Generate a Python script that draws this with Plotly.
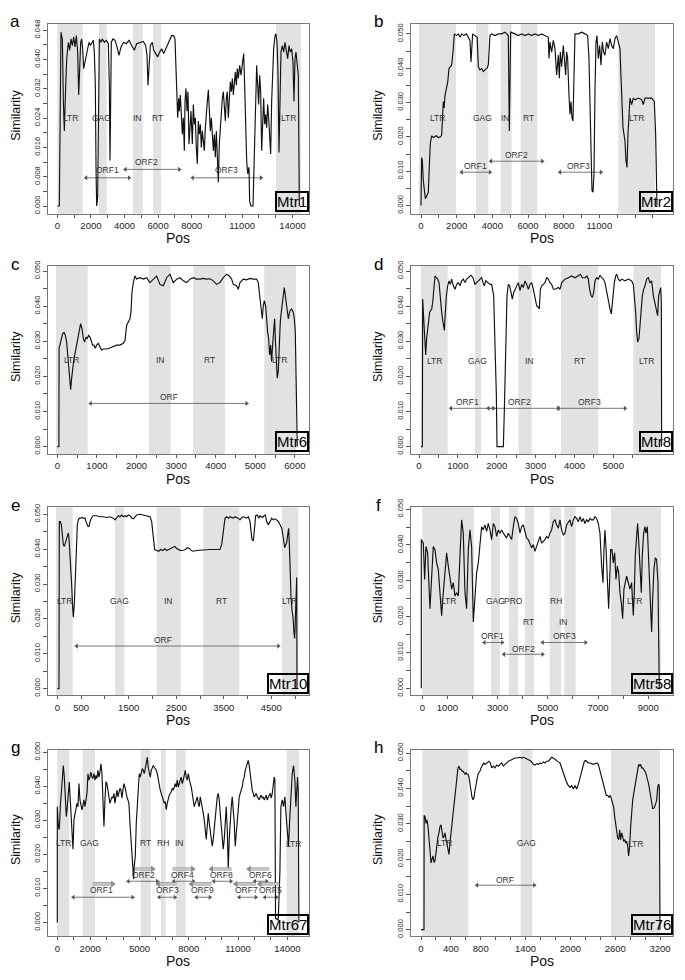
import plotly.graph_objects as go

FONT = "Liberation Sans, Arial, Helvetica, sans-serif"

# ======================= DATA =======================
# ---- a : Mtr1 ----
a_pos = [0,120,220,300,360,420,500,560,657,736,
         816,895,974,1054,1133,1212,1272,1331,1391,1450,
         1510,1569,1649,1728,1807,1887,1966,2046,2145,2204,
         2264,2304,2343,2403,2442,2502,2601,2680,2799,2919,
         3038,3097,3137,3176,3216,3315,3434,3534,3672,3792,
         3950,4109,4268,4426,4585,4724,4922,5121,5260,5339,
         5399,5458,5537,5656,5736,5855,5974,6093,6212,6331,
         6450,6569,6688,6807,6926,7006,7065,7105,7165,7224,
         7264,7323,7383,7442,7502,7561,7601,7660,7720,7780,
         7839,7899,7958,8037,8097,8156,8216,8275,8335,8394,
         8454,8513,8573,8632,8692,8751,8811,8871,8930,8990,
         9049,9109,9168,9228,9287,9347,9406,9466,9525,9585,
         9644,9704,9763,9823,9882,9942,10001,10061,10120,10180,
         10240,10299,10359,10418,10478,10537,10597,10656,10716,10775,
         10855,10934,11013,11093,11152,11212,11271,11331,11410,11450,
         11529,11648,11688,11748,11807,11867,11926,11986,12045,12105,
         12164,12224,12283,12343,12402,12462,12521,12581,12640,12700,
         12759,12819,12878,12958,13017,13077,13136,13196,13255,13315,
         13394,13474,13553,13632,13712,13791,13870,13950,14029,14088,
         14148,14207,14267,14346,14406]
a_sim = [0,0,0.0474,0.0456,0.0285,0.0205,0.0330,0.0402,0.0447,0.0425,
         0.0456,0.0438,0.0461,0.0434,0.0465,0.0420,0.0303,0.0384,0.0447,0.0456,
         0.0429,0.0375,0.0393,0.0420,0.0438,0.0447,0.0438,0.0443,0.0452,0.0420,
         0.0330,0.0106,0,0.0025,0.0330,0.0456,0.0447,0.0456,0.0447,0.0452,
         0.0443,0.0330,0.0124,0.0241,0.0447,0.0456,0.0452,0.0438,0.0411,0.0434,
         0.0447,0.0443,0.0452,0.0438,0.0425,0.0443,0.0447,0.0449,0.0438,0.0411,
         0.0330,0.0393,0.0438,0.0447,0.0425,0.0416,0.0407,0.0420,0.0429,0.0416,
         0.0429,0.0438,0.0456,0.0465,0.0465,0.0456,0.0375,0.0285,0.0241,0.0294,
         0.0259,0.0303,0.0250,0.0196,0.0241,0.0151,0.0285,0.0321,0.0259,0.0312,
         0.0169,0.0241,0.0259,0.0169,0.0277,0.0223,0.0241,0.0160,0.0115,0.0232,
         0.0196,0.0223,0.0160,0.0205,0.0178,0.0151,0.0214,0.0241,0.0285,0.0317,
         0.0241,0.0205,0.0241,0.0178,0.0151,0.0196,0.0133,0.0205,0.0097,0.0065,
         0.0169,0.0214,0.0259,0.0294,0.0312,0.0268,0.0232,0.0294,0.0312,0.0241,
         0.0285,0.0339,0.0312,0.0348,0.0303,0.0330,0.0366,0.0330,0.0375,0.0348,
         0.0384,0.0357,0.0393,0.0416,0.0330,0.0196,0.0124,0.0088,0.0106,0.0012,
         0,0,0.0079,0.0223,0.0330,0.0384,0.0330,0.0277,0.0357,0.0312,
         0.0151,0.0241,0.0294,0.0223,0.0250,0.0214,0.0277,0.0241,0.0169,0.0142,
         0.0285,0.0375,0.0429,0.0465,0.0470,0.0447,0.0366,0.0146,0.0330,0.0420,
         0.0438,0.0420,0.0447,0.0425,0.0402,0.0438,0.0420,0.0429,0.0393,0.0285,
         0.0402,0.0420,0.0393,0.0357,0]
a_shade = [(0,1510),(2480,2940),(4500,5080),(5710,6170),(13020,14500)]
a_feat = [("LTR",800,0.0240),("GAG",2640,0.0240),("IN",4780,0.0240),("RT",5970,0.0240),("LTR",13750,0.0240)]
a_orf = [("ORF1",1710,4270,0.0077,2976,0.0098),("ORF2",4050,7260,0.0100,5321,0.0121),
         ("ORF3",8060,12125,0.0077,10042,0.0098)]
a_xtick = [0,1000,2000,3000,4000,5000,6000,7000,8000,9000,10000,11000,12000,13000,14000]
a_xtext = ["0","","2000","","4000","","6000","","8000","","","11000","","","14000"]

# ---- b : Mtr2 ----
b_pos = [0,37,74,130,186,242,298,354,411,448,
         520,597,700,850,971,1100,1158,1252,1300,1345,
         1438,1500,1569,1719,1800,1869,2000,2093,2200,2280,
         2400,2550,2654,2747,2803,2850,2897,3027,3150,3214,
         3300,3401,3500,3588,3700,3775,3868,3962,4149,4335,
         4522,4709,4896,4952,5027,5270,5450,5644,5830,6018,
         6200,6391,6600,6765,7000,7139,7176,7232,7326,7419,
         7513,7606,7700,7756,7812,7887,7980,8036,8111,8167,
         8223,8298,8354,8410,8466,8522,8559,8597,8634,8821,
         9008,9195,9344,9419,9475,9531,9587,9643,9700,9756,
         9812,9868,9942,10017,10092,10167,10241,10316,10410,10503,
         10597,10690,10783,10877,10970,11064,11158,11213,11269,11326,
         11382,11438,11494,11550,11606,11662,11718,11812,11905,11999,
         12186,12373,12466,12560,12747,12933,13083,13158,13232]
b_sim = [0,0.0140,0.0131,0.0073,0.0035,0.0020,0.0025,0.0035,0.0039,0.0092,
         0.0180,0.0203,0.0198,0.0203,0.0198,0.0200,0.0205,0.0303,0.0284,0.0320,
         0.0340,0.0360,0.0399,0.0409,0.0450,0.0500,0.0495,0.0500,0.0490,0.0500,
         0.0495,0.0500,0.0490,0.0480,0.0418,0.0470,0.0500,0.0495,0.0490,0.0404,
         0.0395,0.0399,0.0390,0.0395,0.0400,0.0410,0.0495,0.0500,0.0495,0.0500,
         0.0500,0.0505,0.0495,0.0217,0.0505,0.0500,0.0495,0.0500,0.0495,0.0500,
         0.0495,0.0500,0.0495,0.0500,0.0495,0.0490,0.0428,0.0476,0.0447,0.0481,
         0.0457,0.0380,0.0438,0.0371,0.0447,0.0404,0.0466,0.0438,0.0380,0.0447,
         0.0428,0.0322,0.0265,0.0303,0.0255,0.0246,0.0322,0.0447,0.0500,0.0500,
         0.0505,0.0500,0.0495,0.0428,0.0284,0.0140,0.0044,0.0039,0.0092,0.0332,
         0.0476,0.0495,0.0428,0.0466,0.0409,0.0476,0.0447,0.0438,0.0476,0.0457,
         0.0486,0.0466,0.0457,0.0486,0.0495,0.0476,0.0457,0.0380,0.0284,0.0227,
         0.0207,0.0188,0.0131,0.0111,0.0207,0.0284,0.0313,0.0294,0.0313,0.0308,
         0.0313,0.0308,0.0294,0.0313,0.0313,0.0313,0.0303,0.0207,0]
b_shade = [(-110,1962),(3083,3775),(4466,5083),(5588,6522),(11064,13120)]
b_feat = [("LTR",934,0.0255),("GAG",3438,0.0255),("IN",4747,0.0255),("RT",6018,0.0255),("LTR",12092,0.0255)]
b_orf = [("ORF1",2280,3868,0.0097,3083,0.0116),("ORF2",3924,6803,0.0129,5363,0.0148),
         ("ORF3",7793,10092,0.0097,8821,0.0116)]
b_xtick = [0,1000,2000,3000,4000,5000,6000,7000,8000,9000,10000,11000,12000,13000]
b_xtext = ["0","","2000","","4000","","6000","","8000","","11000","","",""]

# ---- c : Mtr6 ----
c_pos = [0,40,45,67,109,135,168,202,236,261,
         286,311,337,362,387,421,455,488,530,556,
         589,623,657,690,724,758,791,825,859,892,
         926,960,993,1035,1077,1119,1162,1246,1330,1414,
         1498,1582,1667,1709,1751,1793,1835,1860,1885,1919,
         1961,2003,2087,2172,2256,2340,2424,2508,2592,2677,
         2761,2845,2929,3013,3097,3182,3266,3350,3434,3518,
         3602,3687,3771,3855,3939,4023,4107,4192,4276,4343,
         4402,4444,4528,4570,4612,4697,4781,4865,4949,5033,
         5075,5118,5151,5176,5202,5227,5261,5286,5311,5336,
         5362,5387,5412,5437,5463,5488,5505,5530,5555,5580,
         5606,5631,5656,5681,5707,5732,5757,5782,5808,5833,
         5875,5917,5959,5985,6010,6035,6060]
c_sim = [0,0,0.0280,0.0289,0.0308,0.0322,0.0325,0.0317,0.0298,0.0261,
         0.0223,0.0186,0.0162,0.0195,0.0223,0.0251,0.0270,0.0289,0.0308,0.0326,
         0.0350,0.0336,0.0308,0.0298,0.0312,0.0308,0.0317,0.0312,0.0298,0.0289,
         0.0289,0.0280,0.0289,0.0294,0.0284,0.0275,0.0278,0.0278,0.0281,0.0284,
         0.0289,0.0289,0.0294,0.0303,0.0345,0.0355,0.0364,0.0383,0.0439,0.0467,
         0.0486,0.0477,0.0481,0.0477,0.0481,0.0467,0.0477,0.0486,0.0462,0.0458,
         0.0481,0.0491,0.0467,0.0477,0.0481,0.0472,0.0467,0.0477,0.0481,0.0477,
         0.0477,0.0479,0.0477,0.0478,0.0472,0.0462,0.0467,0.0481,0.0491,0.0486,
         0.0477,0.0462,0.0458,0.0448,0.0467,0.0477,0.0475,0.0479,0.0477,0.0477,
         0.0467,0.0420,0.0383,0.0364,0.0401,0.0416,0.0401,0.0355,0.0326,0.0308,
         0.0261,0.0289,0.0242,0.0289,0.0336,0.0364,0.0308,0.0232,0.0195,0.0214,
         0.0308,0.0355,0.0383,0.0401,0.0430,0.0453,0.0430,0.0401,0.0383,0.0364,
         0.0387,0.0392,0.0383,0.0364,0.0326,0.0195,0]
c_shade = [(-34,766),(2315,2862),(3434,4234),(5227,6027)]
c_feat = [("LTR",362,0.0246),("IN",2609,0.0246),("RT",3838,0.0246),("LTR",5623,0.0246)]
c_orf = [("ORF",842,4781,0.0123,2811,0.0141)]
c_xtick = [0,500,1000,1500,2000,2500,3000,3500,4000,4500,5000,5500,6000]
c_xtext = ["0","","1000","","2000","","3000","","4000","","5000","","6000"]

# ---- d : Mtr8 ----
d_pos = [51,86,94,120,146,172,197,223,249,274,
         300,326,352,377,412,446,480,515,549,583,
         617,652,678,703,738,772,806,840,883,926,
         969,1012,1055,1098,1141,1183,1226,1269,1338,1389,
         1441,1484,1527,1569,1612,1647,1681,1715,1767,1827,
         1870,1921,1955,1990,2007,2170,2195,2230,2264,2298,
         2333,2367,2401,2436,2470,2513,2556,2599,2641,2684,
         2727,2770,2813,2856,2899,2942,2984,3027,3070,3096,
         3122,3156,3199,3242,3285,3327,3370,3413,3456,3499,
         3585,3628,3671,3756,3842,3928,4014,4099,4151,4202,
         4271,4322,4357,4391,4425,4460,4494,4528,4571,4614,
         4657,4700,4743,4785,4828,4871,4914,4948,4983,5026,
         5060,5086,5129,5171,5214,5300,5386,5471,5514,5540,
         5574,5600,5626,5660,5686,5712,5746,5780,5815,5857,
         5900,5943,5986,6029,6072,6115,6140,6166,6192,6218,
         6235,6243]
d_sim = [0,0,0.0420,0.0364,0.0308,0.0261,0.0308,0.0345,0.0359,0.0383,
         0.0387,0.0392,0.0411,0.0448,0.0486,0.0481,0.0477,0.0467,0.0420,0.0383,
         0.0355,0.0331,0.0383,0.0430,0.0458,0.0472,0.0462,0.0477,0.0458,0.0448,
         0.0462,0.0467,0.0458,0.0472,0.0477,0.0467,0.0477,0.0481,0.0488,0.0481,
         0.0462,0.0467,0.0472,0.0477,0.0481,0.0467,0.0458,0.0472,0.0467,0.0462,
         0.0462,0.0430,0.0289,0.0148,0,0,0.0101,0.0289,0.0430,0.0462,
         0.0458,0.0439,0.0420,0.0439,0.0448,0.0458,0.0467,0.0444,0.0462,0.0453,
         0.0472,0.0462,0.0448,0.0462,0.0467,0.0448,0.0420,0.0401,0.0397,0.0392,
         0.0448,0.0458,0.0462,0.0467,0.0481,0.0477,0.0467,0.0462,0.0448,0.0448,
         0.0453,0.0448,0.0467,0.0477,0.0481,0.0486,0.0481,0.0486,0.0491,0.0481,
         0.0481,0.0486,0.0477,0.0448,0.0430,0.0425,0.0439,0.0472,0.0481,0.0477,
         0.0488,0.0481,0.0477,0.0467,0.0439,0.0411,0.0392,0.0378,0.0430,0.0467,
         0.0486,0.0491,0.0477,0.0472,0.0477,0.0472,0.0477,0.0472,0.0462,0.0430,
         0.0383,0.0326,0.0298,0.0308,0.0355,0.0401,0.0430,0.0448,0.0458,0.0477,
         0.0481,0.0467,0.0472,0.0430,0.0406,0.0383,0.0373,0.0430,0.0448,0.0453,
         0.0411,0]
d_shade = [(51,738),(1441,1595),(2556,2899),(3653,4614),(5514,6226)]
d_feat = [("LTR",394,0.0244),("GAG",1509,0.0244),("IN",2830,0.0244),("RT",4142,0.0244),("LTR",5857,0.0244)]
d_orf = [("ORF1",823,1912,0.0109,1244,0.0127),("ORF2",1784,3585,0.0109,2598,0.0127),
         ("ORF3",3585,5300,0.0109,4399,0.0127)]
d_xtick = [0,500,1000,1500,2000,2500,3000,3500,4000,4500,5000,5500]
d_xtext = ["0","","1000","","2000","","3000","","4000","","5000",""]

# ---- e : Mtr10 ----
e_pos = [0,35,42,63,84,105,126,147,168,189,
         210,231,245,259,280,301,322,336,358,379,
         400,421,442,463,491,519,547,582,603,624,
         645,666,687,722,757,827,897,967,1037,1108,
         1178,1213,1248,1283,1318,1353,1388,1423,1458,1493,
         1528,1563,1598,1633,1668,1738,1809,1879,1949,1984,
         2019,2047,2089,2131,2173,2215,2264,2299,2341,2383,
         2425,2468,2510,2552,2594,2650,2692,2734,2776,2818,
         2860,2930,3000,3070,3140,3211,3281,3351,3421,3456,
         3491,3526,3561,3596,3631,3666,3701,3736,3771,3806,
         3841,3877,3912,3947,3982,4017,4052,4073,4094,4122,
         4143,4171,4206,4234,4262,4290,4318,4346,4374,4402,
         4437,4472,4507,4542,4578,4613,4648,4683,4718,4753,
         4781,4802,4823,4844,4865,4879,4893,4914,4935,4956,
         4977,4991,5005,5019,5033,5040]
e_sim = [0,0,0.0479,0.0479,0.0470,0.0432,0.0413,0.0408,0.0418,0.0422,
         0.0432,0.0446,0.0432,0.0404,0.0366,0.0300,0.0233,0.0205,0.0243,0.0319,
         0.0413,0.0470,0.0484,0.0489,0.0489,0.0491,0.0489,0.0489,0.0479,0.0470,
         0.0465,0.0465,0.0479,0.0491,0.0496,0.0496,0.0493,0.0493,0.0491,0.0493,
         0.0489,0.0484,0.0491,0.0496,0.0493,0.0498,0.0493,0.0496,0.0493,0.0498,
         0.0496,0.0489,0.0487,0.0493,0.0498,0.0500,0.0498,0.0496,0.0493,0.0479,
         0.0432,0.0399,0.0396,0.0394,0.0399,0.0396,0.0401,0.0396,0.0399,0.0402,
         0.0405,0.0408,0.0402,0.0399,0.0396,0.0397,0.0399,0.0404,0.0402,0.0396,
         0.0394,0.0396,0.0397,0.0399,0.0399,0.0399,0.0399,0.0399,0.0399,0.0413,
         0.0460,0.0489,0.0493,0.0489,0.0493,0.0491,0.0489,0.0493,0.0491,0.0489,
         0.0484,0.0491,0.0493,0.0491,0.0489,0.0493,0.0479,0.0451,0.0427,0.0424,
         0.0451,0.0496,0.0498,0.0489,0.0496,0.0493,0.0491,0.0496,0.0498,0.0479,
         0.0470,0.0479,0.0489,0.0484,0.0487,0.0484,0.0479,0.0470,0.0460,0.0432,
         0.0404,0.0413,0.0418,0.0441,0.0460,0.0413,0.0319,0.0262,0.0224,0.0205,
         0.0158,0.0144,0.0196,0.0243,0.0319,0]
e_shade = [(-28,322),(1213,1409),(2089,2594),(3070,3827),(4718,5068)]
e_feat = [("LTR",147,0.0250),("GAG",1304,0.0250),("IN",2348,0.0250),("RT",3456,0.0250),("LTR",4879,0.0250)]
e_orf = [("ORF",407,4648,0.0122,2215,0.0139)]
e_xtick = [0,500,1000,1500,2000,2500,3000,3500,4000,4500,5000]
e_xtext = ["0","500","","1500","","2500","","3500","","4500",""]

# ---- f : Mtr58 ----
f_pos = [-40,-40,40,93,146,212,305,385,438,505,
         571,637,704,770,837,903,969,1036,1102,1169,
         1235,1301,1368,1434,1501,1567,1633,1700,1766,1833,
         1899,1965,2032,2098,2165,2231,2297,2364,2430,2497,
         2563,2629,2696,2762,2829,2895,2961,3028,3094,3161,
         3227,3293,3360,3426,3493,3559,3625,3692,3758,3825,
         3891,3957,4024,4090,4157,4223,4289,4356,4422,4489,
         4555,4621,4688,4754,4821,4887,4953,5020,5086,5153,
         5219,5285,5352,5418,5485,5551,5617,5684,5750,5817,
         5883,5949,6016,6082,6149,6215,6281,6348,6414,6481,
         6547,6613,6680,6746,6813,6879,6945,7012,7078,7145,
         7198,7238,7277,7317,7357,7397,7424,7463,7503,7556,
         7609,7663,7716,7769,7822,7875,7928,7981,8034,8088,
         8141,8207,8273,8340,8406,8446,8486,8539,8579,8619,
         8672,8725,8765,8818,8871,8911,8964,9004,9057,9097,
         9136,9176,9229,9282,9336,9389,9442]
f_sim = [0,0.0415,0.0405,0.0304,0.0396,0.0378,0.0222,0.0323,0.0396,0.0387,
         0.0350,0.0332,0.0277,0.0203,0.0267,0.0323,0.0378,0.0341,0.0304,0.0277,
         0.0295,0.0258,0.0267,0.0258,0.0369,0.0470,0.0433,0.0267,0.0222,0.0387,
         0.0442,0.0396,0.0185,0.0249,0.0323,0.0350,0.0396,0.0451,0.0442,0.0456,
         0.0438,0.0460,0.0442,0.0415,0.0460,0.0451,0.0424,0.0442,0.0433,0.0442,
         0.0433,0.0424,0.0419,0.0433,0.0424,0.0415,0.0451,0.0479,0.0474,0.0460,
         0.0433,0.0451,0.0456,0.0433,0.0419,0.0415,0.0401,0.0392,0.0401,0.0382,
         0.0396,0.0410,0.0424,0.0405,0.0410,0.0415,0.0424,0.0419,0.0433,0.0442,
         0.0465,0.0470,0.0456,0.0447,0.0470,0.0442,0.0428,0.0433,0.0456,0.0465,
         0.0470,0.0451,0.0470,0.0479,0.0474,0.0465,0.0479,0.0465,0.0474,0.0460,
         0.0470,0.0465,0.0474,0.0470,0.0470,0.0479,0.0474,0.0460,0.0433,0.0341,
         0.0295,0.0387,0.0442,0.0396,0.0332,0.0249,0.0222,0.0295,0.0387,0.0387,
         0.0350,0.0378,0.0304,0.0341,0.0323,0.0267,0.0240,0.0194,0.0277,0.0295,
         0.0313,0.0295,0.0277,0.0295,0.0203,0.0267,0.0369,0.0424,0.0460,0.0415,
         0.0323,0.0267,0.0369,0.0433,0.0451,0.0433,0.0451,0.0387,0.0295,0.0203,
         0.0157,0.0249,0.0332,0.0364,0.0359,0.0295,0]
f_shade = [(0,2058),(2736,3094),(3453,3825),(4090,4449),(5073,5524),(5657,6109),(7516,9508)]
f_feat = [("LTR",1036,0.0243),("GAG",2922,0.0243),("PRO",3625,0.0243),("RT",4223,0.0185),
          ("RH",5312,0.0243),("IN",5644,0.0185),("LTR",8473,0.0243)]
f_orf = [("ORF1",2470,3187,0.0128,2789,0.0145),("ORF2",3254,4794,0.0095,4024,0.0111),
         ("ORF3",4794,6507,0.0128,5657,0.0145)]
f_xtick = [0,1000,2000,3000,4000,5000,6000,7000,8000,9000]
f_xtext = ["0","1000","","3000","","5000","","7000","","9000"]

# ---- g : Mtr67 ----
g_pos = [0,0,61,122,183,243,304,365,426,487,
         548,608,669,730,791,852,913,953,1014,1075,
         1136,1197,1257,1318,1379,1440,1501,1562,1622,1683,
         1744,1805,1866,1927,1987,2048,2109,2170,2231,2292,
         2352,2413,2474,2535,2596,2657,2718,2778,2839,2900,
         2961,3022,3083,3143,3204,3265,3326,3387,3448,3508,
         3569,3630,3691,3752,3813,3873,3934,3995,4056,4117,
         4178,4238,4299,4360,4421,4482,4543,4604,4644,4685,
         4746,4806,4867,4928,4989,5050,5111,5171,5232,5293,
         5354,5415,5476,5536,5597,5658,5719,5780,5841,5901,
         5962,6023,6084,6145,6206,6266,6327,6388,6449,6510,
         6571,6632,6692,6753,6814,6875,6936,6997,7057,7118,
         7179,7240,7301,7362,7422,7483,7544,7605,7666,7727,
         7788,7848,7909,7970,8031,8092,8153,8213,8274,8335,
         8396,8457,8518,8578,8639,8700,8761,8822,8883,8943,
         9004,9065,9126,9187,9248,9309,9369,9430,9491,9552,
         9613,9674,9734,9795,9856,9917,9978,10039,10099,10160,
         10221,10282,10343,10404,10464,10525,10586,10647,10708,10769,
         10829,10890,10951,11012,11073,11134,11194,11255,11316,11377,
         11438,11499,11560,11620,11681,11742,11803,11864,11925,11985,
         12046,12107,12168,12229,12290,12350,12411,12472,12533,12594,
         12655,12715,12776,12837,12898,12959,13020,13081,13141,13202,
         13243,13283,13445,13547,13608,13689,13770,13851,13932,14013,
         14074,14135,14216,14297,14378,14459,14520,14581,14622,14662,
         14703]
g_sim = [0,0.0340,0.0282,0.0273,0.0340,0.0389,0.0437,0.0461,0.0427,0.0360,
         0.0311,0.0340,0.0389,0.0413,0.0360,0.0292,0.0253,0.0215,0.0302,0.0321,
         0.0331,0.0350,0.0340,0.0408,0.0360,0.0340,0.0331,0.0345,0.0360,0.0340,
         0.0355,0.0379,0.0437,0.0418,0.0427,0.0442,0.0427,0.0423,0.0437,0.0418,
         0.0432,0.0423,0.0447,0.0427,0.0442,0.0466,0.0437,0.0340,0.0282,0.0360,
         0.0413,0.0408,0.0389,0.0379,0.0350,0.0360,0.0369,0.0365,0.0379,0.0350,
         0.0369,0.0389,0.0369,0.0379,0.0394,0.0389,0.0365,0.0389,0.0408,0.0398,
         0.0379,0.0369,0.0360,0.0350,0.0292,0.0244,0.0195,0.0147,0.0128,0.0166,
         0.0195,0.0292,0.0340,0.0418,0.0437,0.0427,0.0442,0.0452,0.0447,0.0437,
         0.0452,0.0476,0.0485,0.0456,0.0437,0.0427,0.0447,0.0456,0.0461,0.0456,
         0.0452,0.0447,0.0437,0.0418,0.0398,0.0389,0.0379,0.0369,0.0360,0.0350,
         0.0355,0.0331,0.0350,0.0365,0.0374,0.0379,0.0384,0.0394,0.0389,0.0398,
         0.0408,0.0398,0.0418,0.0398,0.0413,0.0418,0.0427,0.0408,0.0418,0.0437,
         0.0447,0.0427,0.0418,0.0437,0.0418,0.0408,0.0398,0.0379,0.0360,0.0340,
         0.0350,0.0360,0.0369,0.0350,0.0340,0.0369,0.0355,0.0340,0.0321,0.0302,
         0.0263,0.0244,0.0282,0.0321,0.0292,0.0273,0.0244,0.0224,0.0244,0.0282,
         0.0311,0.0340,0.0369,0.0379,0.0360,0.0321,0.0292,0.0263,0.0215,0.0244,
         0.0282,0.0340,0.0273,0.0157,0.0244,0.0302,0.0340,0.0369,0.0331,0.0292,
         0.0224,0.0263,0.0292,0.0340,0.0369,0.0379,0.0389,0.0398,0.0418,0.0427,
         0.0447,0.0456,0.0466,0.0476,0.0461,0.0437,0.0408,0.0389,0.0379,0.0369,
         0.0374,0.0379,0.0369,0.0365,0.0360,0.0369,0.0374,0.0365,0.0369,0.0360,
         0.0365,0.0374,0.0360,0.0369,0.0374,0.0379,0.0365,0.0379,0.0408,0.0427,
         0.0418,0.0012,0.0007,0.0147,0.0340,0.0360,0.0340,0.0369,0.0311,0.0263,
         0.0224,0.0292,0.0369,0.0437,0.0461,0.0418,0.0340,0.0379,0.0427,0.0389,
         0]
g_shade = [(0,730),(1541,2292),(5070,5678),(6307,6591),(7220,7808),(13953,14703)]
g_feat = [("LTR",406,0.0234),("GAG",1947,0.0234),("RT",5374,0.0234),("RH",6449,0.0234),
          ("IN",7463,0.0234),("LTR",14358,0.0229)]
g_orf = [("ORF1",973,4583,0.0074,2697,0.0094),("ORF2",4320,6084,0.0121,5273,0.0139),
         ("ORF3",6206,7159,0.0074,6692,0.0094),("ORF4",7098,8274,0.0121,7625,0.0139),
         ("ORF8",9532,10566,0.0121,9998,0.0139),("ORF9",8477,9288,0.0074,8842,0.0094),
         ("ORF7",11073,12087,0.0074,11519,0.0094),("ORF6",12026,12736,0.0121,12371,0.0139),
         ("ORF5",12634,13344,0.0074,12979,0.0094)]
# strand arrows drawn above each ORF label: (start, end, level, direction)
g_strand = [(2150,3366,0.0113,"right"),(4725,5800,0.0157,"right"),(6145,7260,0.0113,"left"),
            (7017,8234,0.0157,"right"),(9390,10606,0.0157,"left"),(8173,9390,0.0113,"left"),
            (10870,12087,0.0113,"left"),(11681,12898,0.0157,"left"),(12330,13506,0.0113,"left")]
g_xtick = [0,1000,2000,3000,4000,5000,6000,7000,8000,9000,10000,11000,12000,13000,14000]
g_xtext = ["0","","2000","","","5000","","","8000","","","11000","","","14000"]

# ---- h : Mtr76 ----
h_pos = [0,40,42,54,67,80,94,107,121,134,
         147,161,174,187,201,214,228,241,254,268,
         281,295,308,321,335,348,362,375,388,402,
         415,428,442,455,469,482,495,509,522,536,
         549,562,576,589,603,616,629,643,656,669,
         683,696,710,723,736,750,763,777,790,803,
         821,839,857,875,893,910,928,946,968,991,
         1013,1035,1058,1080,1102,1125,1147,1169,1192,1214,
         1236,1259,1281,1303,1326,1348,1370,1392,1415,1437,
         1459,1482,1504,1526,1549,1571,1593,1616,1638,1660,
         1683,1705,1727,1750,1772,1794,1816,1839,1861,1883,
         1906,1928,1950,1973,1995,2017,2040,2062,2084,2107,
         2129,2151,2173,2187,2205,2223,2240,2263,2285,2307,
         2330,2352,2374,2397,2419,2432,2446,2464,2481,2499,
         2517,2535,2553,2566,2580,2593,2606,2620,2633,2647,
         2660,2673,2687,2700,2713,2727,2740,2754,2767,2780,
         2794,2807,2821,2834,2847,2861,2874,2887,2901,2914,
         2928,2941,2954,2968,2981,2995,3008,3021,3035,3048,
         3062,3075,3088,3102,3115,3128,3142,3155,3169,3182,
         3191,3200]
h_sim = [0,0,0.0324,0.0320,0.0301,0.0311,0.0292,0.0255,0.0200,0.0189,
         0.0200,0.0209,0.0190,0.0195,0.0218,0.0246,0.0264,0.0274,0.0292,0.0297,
         0.0274,0.0260,0.0264,0.0274,0.0255,0.0237,0.0218,0.0213,0.0246,0.0274,
         0.0301,0.0329,0.0357,0.0384,0.0412,0.0440,0.0458,0.0463,0.0454,0.0454,
         0.0449,0.0449,0.0445,0.0440,0.0445,0.0440,0.0440,0.0431,0.0412,0.0389,
         0.0375,0.0368,0.0375,0.0394,0.0412,0.0421,0.0440,0.0445,0.0449,0.0458,
         0.0468,0.0472,0.0468,0.0472,0.0475,0.0477,0.0472,0.0458,0.0463,0.0458,
         0.0466,0.0463,0.0468,0.0472,0.0463,0.0468,0.0472,0.0477,0.0479,0.0482,
         0.0484,0.0486,0.0486,0.0488,0.0488,0.0486,0.0488,0.0486,0.0484,0.0482,
         0.0479,0.0475,0.0468,0.0466,0.0470,0.0468,0.0472,0.0470,0.0475,0.0472,
         0.0477,0.0477,0.0484,0.0488,0.0486,0.0482,0.0477,0.0475,0.0472,0.0458,
         0.0449,0.0431,0.0417,0.0408,0.0403,0.0408,0.0398,0.0408,0.0398,0.0412,
         0.0431,0.0449,0.0468,0.0477,0.0479,0.0475,0.0472,0.0472,0.0470,0.0468,
         0.0470,0.0472,0.0468,0.0449,0.0431,0.0412,0.0403,0.0389,0.0380,0.0380,
         0.0375,0.0380,0.0367,0.0357,0.0347,0.0320,0.0301,0.0274,0.0260,0.0255,
         0.0283,0.0255,0.0274,0.0264,0.0250,0.0255,0.0246,0.0250,0.0237,0.0209,
         0.0237,0.0292,0.0338,0.0366,0.0384,0.0403,0.0421,0.0440,0.0458,0.0468,
         0.0463,0.0468,0.0458,0.0458,0.0454,0.0449,0.0445,0.0435,0.0426,0.0412,
         0.0394,0.0375,0.0357,0.0343,0.0343,0.0347,0.0357,0.0366,0.0403,0.0412,
         0.0403,0]
h_shade = [(18,634),(1334,1491),(2544,3200)]
h_feat = [("LTR",312,0.0244),("GAG",1406,0.0246),("LTR",2874,0.0243)]
h_orf = [("ORF",750,1517,0.0126,1125,0.0142)]
h_xtick = [0,200,400,600,800,1000,1200,1400,1600,1800,2000,2200,2400,2600,2800,3000,3200]
h_xtext = ["0","","400","","800","","","1400","","","2000","","","2600","","","3200"]

# y tick labels
ya_tick = [0.000,0.004,0.008,0.012,0.016,0.020,0.024,0.028,0.032,0.036,0.040,0.044,0.048]
ya_text = ["0.000","","0.008","","0.016","","0.024","","0.032","","0.040","","0.048"]
y_tick = [0.000,0.005,0.010,0.015,0.020,0.025,0.030,0.035,0.040,0.045,0.050]
y_text = ["0.000","","0.010","","0.020","","0.030","","0.040","","0.050"]

# ======================= FIGURE =======================
# page body adds an 8px margin; the figure is sized so that it exactly fills the 685x980 window
OFF = 8
W, H = 685 - 2 * OFF, 980 - 2 * OFF
COLS = [(48, 309), (411, 673)]            # window pixels
ROWS = [(15, 207), (260, 450), (504, 694), (749, 938)]


def px(x):
    return (x - OFF) / W


def py(y):
    return 1 - (y - OFF) / H


panels = [
    dict(letter="a", name="Mtr1", pos=a_pos, sim=a_sim, shade=a_shade, feat=a_feat, orf=a_orf,
         xt=a_xtick, xl=a_xtext, yt=ya_tick, yl=ya_text, xr=[-554, 14982], yr=[-0.0021, 0.0497], c=0, r=0),
    dict(letter="b", name="Mtr2", pos=b_pos, sim=b_sim, shade=b_shade, feat=b_feat, orf=b_orf,
         xt=b_xtick, xl=b_xtext, yt=y_tick, yl=y_text, xr=[-561, 14131], yr=[-0.0024, 0.0529], c=1, r=0),
    dict(letter="c", name="Mtr6", pos=c_pos, sim=c_sim, shade=c_shade, feat=c_feat, orf=c_orf,
         xt=c_xtick, xl=c_xtext, yt=y_tick, yl=y_text, xr=[-235, 6356], yr=[-0.0021, 0.0514], c=0, r=1),
    dict(letter="d", name="Mtr8", pos=d_pos, sim=d_sim, shade=d_shade, feat=d_feat, orf=d_orf,
         xt=d_xtick, xl=d_xtext, yt=y_tick, yl=y_text, xr=[-206, 6535], yr=[-0.0021, 0.0514], c=1, r=1),
    dict(letter="e", name="Mtr10", pos=e_pos, sim=e_sim, shade=e_shade, feat=e_feat, orf=e_orf,
         xt=e_xtick, xl=e_xtext, yt=y_tick, yl=y_text, xr=[-196, 5292], yr=[-0.0019, 0.0520], c=0, r=2),
    dict(letter="f", name="Mtr58", pos=f_pos, sim=f_sim, shade=f_shade, feat=f_feat, orf=f_orf,
         xt=f_xtick, xl=f_xtext, yt=y_tick, yl=y_text, xr=[-450, 9988], yr=[-0.0019, 0.0505], c=1, r=2),
    dict(letter="g", name="Mtr67", pos=g_pos, sim=g_sim, shade=g_shade, feat=g_feat, orf=g_orf,
         xt=g_xtick, xl=g_xtext, yt=y_tick, yl=y_text, xr=[-566, 15319], yr=[-0.0041, 0.0508], c=0, r=3),
    dict(letter="h", name="Mtr76", pos=h_pos, sim=h_sim, shade=h_shade, feat=h_feat, orf=h_orf,
         xt=h_xtick, xl=h_xtext, yt=y_tick, yl=y_text, xr=[-134, 3374], yr=[-0.0019, 0.0510], c=1, r=3),
]

fig = go.Figure()
layout = dict(width=W, height=H, margin=dict(l=0, r=0, t=0, b=0),
              paper_bgcolor="white", plot_bgcolor="white", showlegend=False,
              font=dict(family=FONT, color="#111"))
shapes, annots = [], []

AX_COL = "#777"
TXT_COL = "#333"

for k, p in enumerate(panels, start=1):
    assert len(p["pos"]) == len(p["sim"]), (p["name"], len(p["pos"]), len(p["sim"]))
    xn = "x" if k == 1 else f"x{k}"
    yn = "y" if k == 1 else f"y{k}"
    xk = "xaxis" if k == 1 else f"xaxis{k}"
    yk = "yaxis" if k == 1 else f"yaxis{k}"
    x0p, x1p = COLS[p["c"]]
    y0p, y1p = ROWS[p["r"]]
    layout[xk] = dict(domain=[px(x0p), px(x1p)], range=p["xr"], anchor=yn,
                      tickmode="array", tickvals=p["xt"], ticktext=p["xl"],
                      ticks="outside", ticklen=3, tickwidth=1, tickcolor="#555",
                      showline=True, linecolor=AX_COL, linewidth=1, mirror=True,
                      showgrid=False, zeroline=False,
                      tickfont=dict(size=9.5, color="#222", family=FONT))
    layout[yk] = dict(domain=[py(y1p), py(y0p)], range=p["yr"], anchor=xn,
                      tickmode="array", tickvals=p["yt"], ticktext=p["yl"], tickangle=-90,
                      ticks="outside", ticklen=4, tickwidth=1, tickcolor="#555",
                      showline=True, linecolor=AX_COL, linewidth=1, mirror=True,
                      showgrid=False, zeroline=False,
                      tickfont=dict(size=7.5, color="#222", family=FONT))

    # gene-region shading
    for (s, e) in p["shade"]:
        shapes.append(dict(type="rect", xref=xn, yref=f"{yn} domain", x0=s, x1=e, y0=0, y1=1,
                           fillcolor="#e2e2e2", line=dict(width=0), layer="below"))
    # region labels
    for (t, xv, yv) in p["feat"]:
        annots.append(dict(xref=xn, yref=yn, x=xv, y=yv, text=t, showarrow=False,
                           font=dict(size=8.5, color=TXT_COL, family=FONT)))
    # ORF arrows + labels
    for (t, s, e, yv, lx, ly) in p["orf"]:
        fig.add_trace(go.Scatter(x=[s, e], y=[yv, yv], xaxis=xn, yaxis=yn, mode="lines+markers",
                                 line=dict(color="#555", width=0.8),
                                 marker=dict(symbol=["triangle-left", "triangle-right"], size=4.5,
                                             color="#555"),
                                 hoverinfo="skip"))
        annots.append(dict(xref=xn, yref=yn, x=lx, y=ly, text=t, showarrow=False,
                           font=dict(size=8.5, color=TXT_COL, family=FONT)))

    # similarity trace
    fig.add_trace(go.Scatter(x=p["pos"], y=p["sim"], xaxis=xn, yaxis=yn, mode="lines",
                             line=dict(color="#111", width=1.15), hoverinfo="skip"))

    # element name box
    annots.append(dict(xref=f"{xn} domain", yref=f"{yn} domain", x=1, y=0.008,
                       xanchor="right", yanchor="bottom", text=p["name"], showarrow=False,
                       font=dict(size=15, color="#000", family=FONT),
                       bordercolor="#000", borderwidth=2, borderpad=0, bgcolor="rgba(0,0,0,0)"))

    # panel letter, axis titles
    lx = 15 if p["c"] == 0 else 378
    annots.append(dict(xref="paper", yref="paper", x=px(lx), y=py(y0p - 2), text=p["letter"],
                       showarrow=False, xanchor="center", yanchor="middle",
                       font=dict(size=17, color="#000", family=FONT)))
    annots.append(dict(xref="paper", yref="paper", x=px(16 if p["c"] == 0 else 378),
                       y=py((y0p + y1p) / 2 - 3), text="Similarity", textangle=-90,
                       showarrow=False, xanchor="center", yanchor="middle",
                       font=dict(size=12.5, color="#111", family=FONT)))
    annots.append(dict(xref="paper", yref="paper", x=px((x0p + x1p) / 2), y=py(y1p + 25),
                       text="Pos", showarrow=False, xanchor="center", yanchor="middle",
                       font=dict(size=14, color="#111", family=FONT)))

# strand (direction) arrows in panel g
gx, gy = "x7", "y7"
for (s, e, yv, d) in g_strand:
    fig.add_trace(go.Scatter(x=[s, e], y=[yv, yv], xaxis=gx, yaxis=gy, mode="lines",
                             line=dict(color="#8a8a8a", width=3.2), hoverinfo="skip"))
    fig.add_trace(go.Scatter(x=[s, e], y=[yv, yv], xaxis=gx, yaxis=gy, mode="lines",
                             line=dict(color="white", width=1.0), hoverinfo="skip"))
    head = e if d == "right" else s
    fig.add_trace(go.Scatter(x=[head], y=[yv], xaxis=gx, yaxis=gy, mode="markers",
                             marker=dict(symbol="triangle-right" if d == "right" else "triangle-left",
                                         size=6, color="#8a8a8a"),
                             hoverinfo="skip"))

layout["shapes"] = shapes
layout["annotations"] = annots
fig.update_layout(**layout)
fig.write_html("out.html")
